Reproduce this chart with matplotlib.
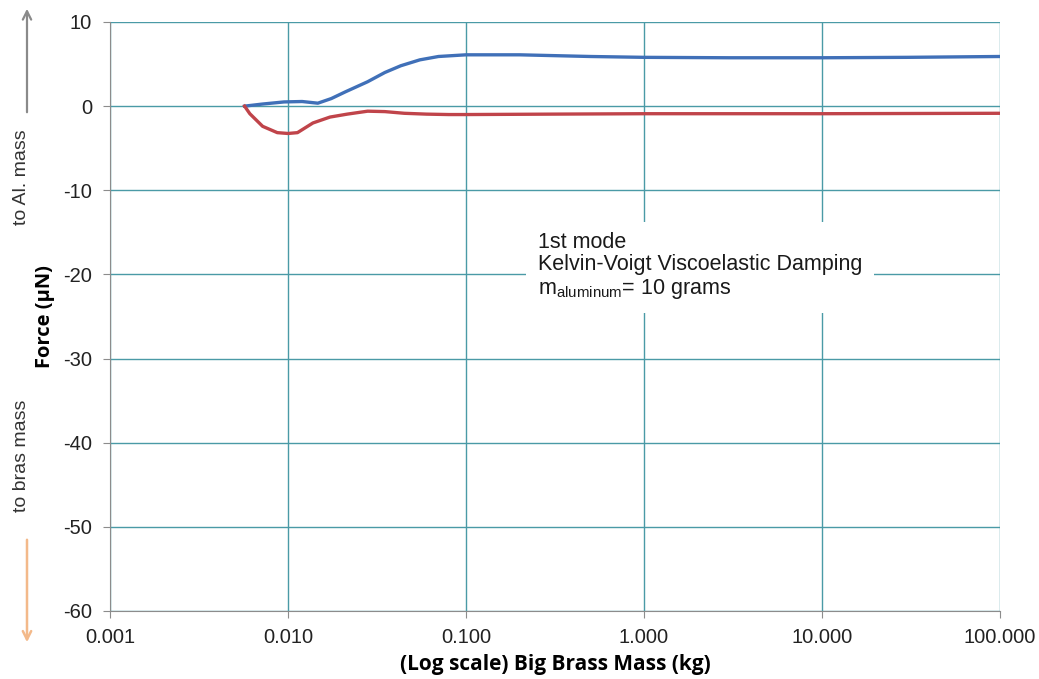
import matplotlib
matplotlib.use("Agg")
import matplotlib.pyplot as plt
from matplotlib.patches import FancyArrowPatch
from matplotlib.ticker import FixedLocator, FixedFormatter, NullLocator

plt.rcParams['font.family'] = ['Liberation Sans', 'DejaVu Sans']
plt.rcParams['mathtext.fontset'] = 'custom'
plt.rcParams['mathtext.rm'] = 'Liberation Sans'
plt.rcParams['axes.unicode_minus'] = False

# force on the aluminium mass (blue) and on the brass mass (red), uN
mass_blue = [0.0057, 0.0072, 0.0095, 0.012, 0.0147, 0.0175, 0.021, 0.028, 0.035,
             0.043, 0.055, 0.07, 0.1, 0.2, 0.5, 1, 3, 10, 30, 100]
force_blue = [0.0, 0.25, 0.5, 0.55, 0.35, 0.9, 1.7, 2.9, 4.0,
              4.8, 5.5, 5.9, 6.1, 6.1, 5.9, 5.8, 5.75, 5.75, 5.8, 5.9]

mass_red = [0.0057, 0.0061, 0.0072, 0.0087, 0.01, 0.0113, 0.0138, 0.0172, 0.0215,
            0.028, 0.035, 0.045, 0.06, 0.08, 0.1, 0.3, 1, 10, 100]
force_red = [0.0, -0.9, -2.4, -3.15, -3.25, -3.15, -2.0, -1.3, -0.95,
             -0.6, -0.65, -0.85, -0.95, -1.0, -1.0, -0.95, -0.9, -0.9, -0.85]

x_ticks = [0.001, 0.01, 0.1, 1, 10, 100]
x_labels = ['0.001', '0.010', '0.100', '1.000', '10.000', '100.000']
y_ticks = [10, 0, -10, -20, -30, -40, -50, -60]

grid_col = '#4a9aa6'
axis_col = '#8c8c8c'

fig = plt.figure(figsize=(10.39, 6.79), dpi=100)
ax = fig.add_axes([0.1059, 0.1002, 0.8566, 0.8674])

ax.plot(mass_blue, force_blue, color='#4070b8', lw=2.4, zorder=3,
        solid_joinstyle='round')
ax.plot(mass_red, force_red, color='#c0444a', lw=2.4, zorder=3,
        solid_joinstyle='round')

ax.set_xscale('log')
ax.set_xlim(0.001, 100)
ax.set_ylim(-60, 10)
ax.xaxis.set_major_locator(FixedLocator(x_ticks))
ax.xaxis.set_major_formatter(FixedFormatter(x_labels))
ax.xaxis.set_minor_locator(NullLocator())
ax.set_yticks(y_ticks)

ax.grid(True, color=grid_col, lw=1.0)
ax.set_axisbelow(True)
for side in ('top', 'right'):
    ax.spines[side].set_visible(False)
for side in ('left', 'bottom'):
    ax.spines[side].set_color(axis_col)
ax.tick_params(axis='both', colors=axis_col, labelcolor='#222222', length=5,
               labelsize=14.5, direction='out')
ax.tick_params(axis='x', pad=7)
ax.tick_params(axis='y', pad=8)

ax.set_xlabel('(Log scale) Big Brass Mass (kg)', fontsize=15, fontweight='bold',
              family=['Open Sans', 'DejaVu Sans'], labelpad=5)
ax.set_ylabel('Force (\u03bcN)', fontsize=14.5, fontweight='bold',
              family=['Open Sans', 'DejaVu Sans'], labelpad=6)

# annotation box, white fill hides the grid behind it
ax.text(0.481, 0.585,
        '1st mode\nKelvin-Voigt Viscoelastic Damping\n'
        r'm$_{\mathregular{aluminum}}$= 10 grams',
        transform=ax.transAxes,
        fontsize=15.5, color='#1a1a1a', va='center', ha='left', linespacing=1.1,
        zorder=4,
        bbox=dict(boxstyle='square,pad=0.55', fc='white', ec='none'))

# direction hints beside the force axis
fig.text(22 / 1039, 1 - 177 / 679, 'to Al. mass', rotation=90, fontsize=14,
         color='#333333', ha='center', va='center')
fig.text(22 / 1039, 1 - 456 / 679, 'to bras mass', rotation=90, fontsize=14,
         color='#333333', ha='center', va='center')
fig.add_artist(FancyArrowPatch(
    (27 / 1039, 1 - 115 / 679), (27 / 1039, 1 - 6 / 679),
    transform=fig.transFigure, arrowstyle='->,head_length=6,head_width=3',
    color='#8a8a8a', lw=1.6))
fig.add_artist(FancyArrowPatch(
    (27 / 1039, 1 - 537 / 679), (27 / 1039, 1 - 645 / 679),
    transform=fig.transFigure, arrowstyle='->,head_length=6,head_width=3',
    color='#f3b98a', lw=1.8))

fig.savefig('out.png', dpi=100, facecolor='white')
